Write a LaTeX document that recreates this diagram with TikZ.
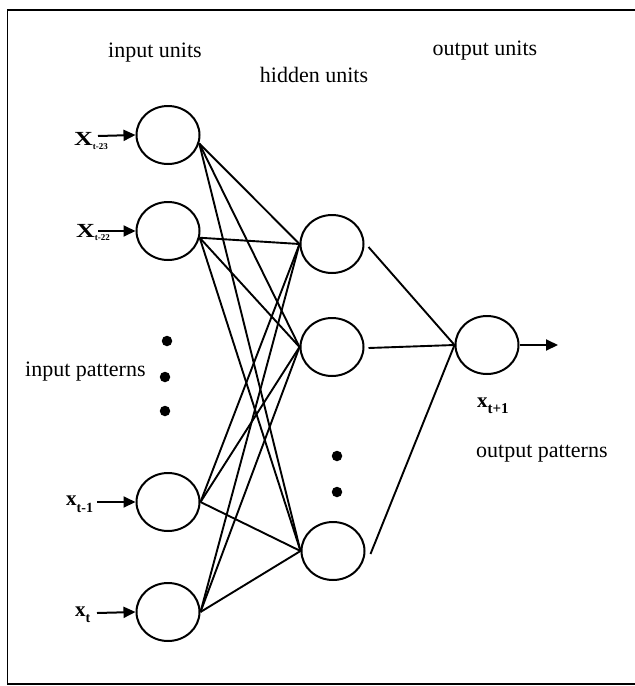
\documentclass[tikz,border=0pt]{standalone}
\usepackage{fontspec}
\setmainfont{Liberation Serif}
\usetikzlibrary{shapes.geometric,arrows.meta,calc}
\begin{document}
\begin{tikzpicture}[x=1pt,y=-1pt,
  unit/.style={ellipse,draw,line width=2pt,minimum width=63pt,minimum height=58pt,inner sep=0pt},
  conn/.style={line width=1.9pt},
  inarrow/.style={line width=2pt,-{Triangle[length=12pt,width=11pt]}},
  lbl/.style={inner sep=0pt,anchor=base,font=\fontsize{22}{24}\selectfont},
  varlbl/.style={inner sep=0pt,anchor=base west},
  bigdot/.style={circle,fill,inner sep=0pt,minimum size=10.5pt},
  frameline/.style={line width=1.6pt}]
\useasboundingbox (0,0) rectangle (635,686);
\draw[frameline] (640,10) -- (7.5,10) -- (7.5,684) -- (640,684);

% units
\node[unit] (i1) at (168,135) {};
\node[unit] (i2) at (168,231) {};
\node[unit] (i3) at (168,502) {};
\node[unit] (i4) at (168,612) {};
\node[unit] (h1) at (332,244) {};
\node[unit] (h2) at (332,347) {};
\node[unit] (h3) at (333,551) {};
\node[unit] (o) at (487,345) {};

% input -> hidden
\foreach \i/\a in {i1/-15,i2/-12,i3/0,i4/0}
  \foreach \h in {h1,h2,h3}
    \draw[conn] (\i.\a) -- (\h.west);

% hidden -> output
\draw[conn] ($(h1.east)+(4,3)$) -- (o.west);
\draw[conn] ($(h2.east)+(4,1)$) -- (o.west);
\draw[conn] ($(h3.east)+(5,3)$) -- (o.west);

% arrows
\coordinate (a1) at (98,136);
\coordinate (a2) at (98,231);
\coordinate (a3) at (97,502);
\coordinate (a4) at (97,613);
\coordinate (oend) at (558,345);
\draw[inarrow] (a1) -- (i1.west);
\draw[inarrow] (a2) -- (i2.west);
\draw[inarrow] (a3) -- (i3.west);
\draw[inarrow] (a4) -- (i4.west);
\draw[inarrow] (o.east) -- (oend);

% variable labels
\node[varlbl] (l1) at (74,145) {\fontsize{20}{20}\selectfont\textbf{\scalebox{1.3}[1]{X}}\raisebox{-4pt}{\fontsize{9}{9}\selectfont\textbf{t-23}}};
\node[varlbl] (l2) at (76,237) {\fontsize{20}{20}\selectfont\textbf{\scalebox{1.3}[1]{X}}\raisebox{-3pt}{\fontsize{9}{9}\selectfont\textbf{t-22}}};
\node[varlbl] (l3) at (66,505) {\fontsize{21}{21}\selectfont\textbf{x}\raisebox{-7pt}{\fontsize{14}{14}\selectfont\textbf{t-1}}};
\node[varlbl] (l4) at (75,616) {\fontsize{21}{21}\selectfont\textbf{x}\raisebox{-6pt}{\fontsize{14}{14}\selectfont\textbf{t}}};
\node[varlbl] (l5) at (477,407) {\fontsize{21}{21}\selectfont\textbf{x}\raisebox{-6pt}{\fontsize{15}{15}\selectfont\textbf{t+1}}};

% titles
\node[lbl] (t1) at (155,57) {input units};
\node[lbl] (t2) at (314,82) {hidden units};
\node[lbl] (t3) at (485,55) {output units};
\node[lbl,anchor=base west] (t4) at (25,376) {input patterns};
\node[lbl,anchor=base west] (t5) at (476,457) {output patterns};

% dots
\node[bigdot] (d1) at (167,341) {};
\node[bigdot] (d2) at (165,377) {};
\node[bigdot] (d3) at (165,411) {};
\node[bigdot] (d4) at (337,456) {};
\node[bigdot] (d5) at (337,492) {};
\end{tikzpicture}
\end{document}
